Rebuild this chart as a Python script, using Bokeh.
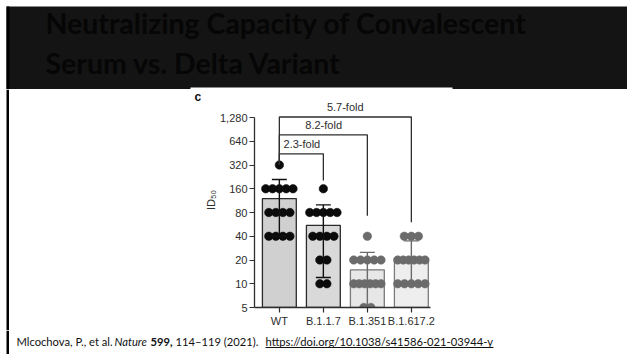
from bokeh.plotting import figure
from bokeh.layouts import column, row
from bokeh.models import Range1d, FixedTicker, NumeralTickFormatter, ColumnDataSource
from bokeh.core.properties import value
from bokeh.embed import file_html
from bokeh.resources import INLINE

# ---- data -----------------------------------------------------------------
categories = ["WT", "B.1.1.7", "B.1.351", "B.1.617.2"]

wt_titres = [320, 160, 160, 160, 160, 160, 80, 80, 80, 80, 40, 40, 40, 40]
b117_titres = [160, 80, 80, 80, 80, 80, 40, 40, 40, 40, 20, 20, 10, 10]
b1351_titres = [40, 20, 20, 20, 20, 20, 10, 10, 10, 10, 10, 10, 5, 5]
b16172_titres = [40, 40, 40, 20, 20, 20, 20, 20, 20, 10, 10, 10, 10, 10]

bar_means = [120, 55, 15, 20]
err_upper = [210, 100, 25, 35]
err_lower = [40, 12, 5, 10]

y_ticks = [5, 10, 20, 40, 80, 160, 320, 640, 1280]

# WT compared against each variant
fold_changes = ["2.3-fold", "8.2-fold", "5.7-fold"]
bracket_levels = [444, 772, 1300]
bracket_drop = [204, 73, 60]

title_lines = ["Neutralizing Capacity of Convalescent", "Serum vs. Delta Variant"]

cite_text = ["Mlcochova, P., et al.", "Nature", "599,", "114\u2013119 (2021).",
             "https://doi.org/10.1038/s41586-021-03944-y"]

# ---- styles ---------------------------------------------------------------
AX = "#2e2e2e"
FONT = "Liberation Sans"
dot_colors = ["#0b0b0b", "#0b0b0b", "#6b6b6b", "#6b6b6b"]
bar_fills = ["#d0d0d0", "#d9d9d9", "#e7e7e7", "#eeeeee"]
bar_lines = ["#2a2a2a", "#2a2a2a", "#7a7a7a", "#7a7a7a"]
err_colors = ["#111111", "#111111", "#6b6b6b", "#6b6b6b"]
BANNER = "#141414"


def page_strip(width, height, y_top, x_left=0):
    """A blank figure whose data units are page pixels (y grows downward)."""
    f = figure(width=width, height=height, output_backend="svg",
               toolbar_location=None, title=None,
               x_range=Range1d(x_left, x_left + width),
               y_range=Range1d(y_top + height, y_top),
               x_axis_location=None, y_axis_location=None,
               min_border=0, frame_align=False)
    f.outline_line_color = None
    f.grid.visible = False
    f.background_fill_color = "white"
    f.border_fill_color = "white"
    return f


# ---- title banner -----------------------------------------------------------
banner = page_strip(627, 89, 0)
banner.quad(left=[6], right=[627], top=[6], bottom=[89], fill_color=BANNER,
            line_color=None)
banner.quad(left=[6], right=[9], top=[6], bottom=[89], fill_color="#000000",
            line_color=None)
banner.quad(left=[190], right=[452], top=[87], bottom=[89], fill_color="white",
            line_color=None)
banner.text(x=[45, 45], y=[22, 62], text=title_lines, text_font=value("Lato"),
            text_font_style="bold", text_font_size="28.5px",
            text_color="#060606", text_baseline="middle")

# ---- left margin of the chart row (frame edge + panel letter) -------------
left = page_strip(201, 241, 89)
left.quad(left=[6], right=[8.5], top=[89], bottom=[330], fill_color="#000000",
          line_color=None)
left.text(x=[194], y=[96], text=["c"], text_font=value(FONT),
          text_font_style="bold", text_font_size="12px", text_color="#111111",
          text_baseline="middle")

# ---- chart ----------------------------------------------------------------
p = figure(width=426, height=241, output_backend="svg", toolbar_location=None,
           title=None, y_axis_type="log",
           x_range=Range1d(-0.565, 3.435), y_range=Range1d(5, 2656),
           min_border_left=47, min_border_right=197,
           min_border_top=3, min_border_bottom=23, frame_align=False)
p.outline_line_color = None
p.grid.visible = False
p.background_fill_color = "white"
p.border_fill_color = "white"

xs = list(range(len(categories)))

p.vbar(x=xs, top=bar_means, bottom=y_ticks[0], width=0.77,
       fill_color=bar_fills, line_color=bar_lines, line_width=1.3)


def row_offsets(vals, step=0.16, max_half=0.31):
    """Spread points that share a value side by side."""
    counts = {}
    for v in vals:
        counts[v] = counts.get(v, 0) + 1
    seen = {}
    out = []
    for v in vals:
        n = counts[v]
        i = seen.get(v, 0)
        seen[v] = i + 1
        s = step if n < 2 else min(step, 2 * max_half / (n - 1))
        out.append((i - (n - 1) / 2) * s)
    return out


groups = [wt_titres, b117_titres, b1351_titres, b16172_titres]
for k, vals in enumerate(groups):
    offs = row_offsets(vals)
    src = ColumnDataSource(dict(x=[k + o for o in offs], y=vals))
    p.scatter("x", "y", source=src, size=8.5, fill_color=dot_colors[k],
              line_color=dot_colors[k], line_width=0.5)

# error bars
p.segment(x0=xs, y0=err_lower, x1=xs, y1=err_upper, line_color=err_colors,
          line_width=1.4)
cap = 0.17
p.segment(x0=[x - cap for x in xs], x1=[x + cap for x in xs], y0=err_upper,
          y1=err_upper, line_color=err_colors, line_width=1.4)
p.segment(x0=[x - cap for x in xs], x1=[x + cap for x in xs], y0=err_lower,
          y1=err_lower, line_color=err_colors, line_width=1.4)

# comparison brackets
b_xs, b_ys = [], []
for j, (lvl, drop) in enumerate(zip(bracket_levels, bracket_drop)):
    t = j + 1
    b_xs.append([0, 0, t, t])
    b_ys.append([max(wt_titres), lvl, lvl, drop])
p.multi_line(xs=b_xs, ys=b_ys, line_color=AX, line_width=1.3)

label_x = [0.095, 0.59, 1.08]
p.text(x=label_x, y=[lvl * 1.34 for lvl in bracket_levels], text=fold_changes,
       text_align="left", text_baseline="middle", text_font=value(FONT),
       text_font_size="11px", text_color=AX)

# axes
p.yaxis.ticker = FixedTicker(ticks=y_ticks, minor_ticks=[])
p.yaxis.formatter = NumeralTickFormatter(format="0,0")
p.yaxis.bounds = (y_ticks[0], y_ticks[-1])
p.yaxis.axis_label = "ID\u2085\u2080"
p.yaxis.axis_label_text_font = FONT
p.yaxis.axis_label_text_font_style = "normal"
p.yaxis.axis_label_text_font_size = "11px"
p.yaxis.axis_label_text_color = AX
p.yaxis.axis_label_standoff = 0

p.xaxis.ticker = FixedTicker(ticks=xs, minor_ticks=[])
p.xaxis.major_label_overrides = {i: c for i, c in enumerate(categories)}

for ax in (p.xaxis, p.yaxis):
    ax.axis_line_color = AX
    ax.axis_line_width = 1.3
    ax.major_tick_line_color = AX
    ax.major_tick_line_width = 1.2
    ax.major_tick_in = 0
    ax.major_tick_out = 5
    ax.minor_tick_line_color = None
    ax.major_label_text_font = FONT
    ax.major_label_text_font_size = "11px"
    ax.major_label_text_color = AX
    ax.major_label_standoff = 2

# ---- citation line ----------------------------------------------------------
cite = page_strip(627, 24, 330)
cite.quad(left=[6], right=[8.5], top=[330], bottom=[354], fill_color="#000000",
          line_color=None)
cite_x = [16, 114, 150, 175, 265]
cite_style = ["normal", "italic", "bold", "normal", "normal"]
for x0, txt, style in zip(cite_x, cite_text, cite_style):
    cite.text(x=[x0], y=[341], text=[txt], text_font=value("Lato"),
              text_font_style=style, text_font_size="11.2px",
              text_color="#111111", text_baseline="middle")
cite.segment(x0=[cite_x[-1]], x1=[493], y0=[347], y1=[347],
             line_color="#111111", line_width=1)

layout = column(banner, row(left, p, spacing=0), cite, spacing=0)
open("out.html", "w").write(file_html(layout, INLINE))
